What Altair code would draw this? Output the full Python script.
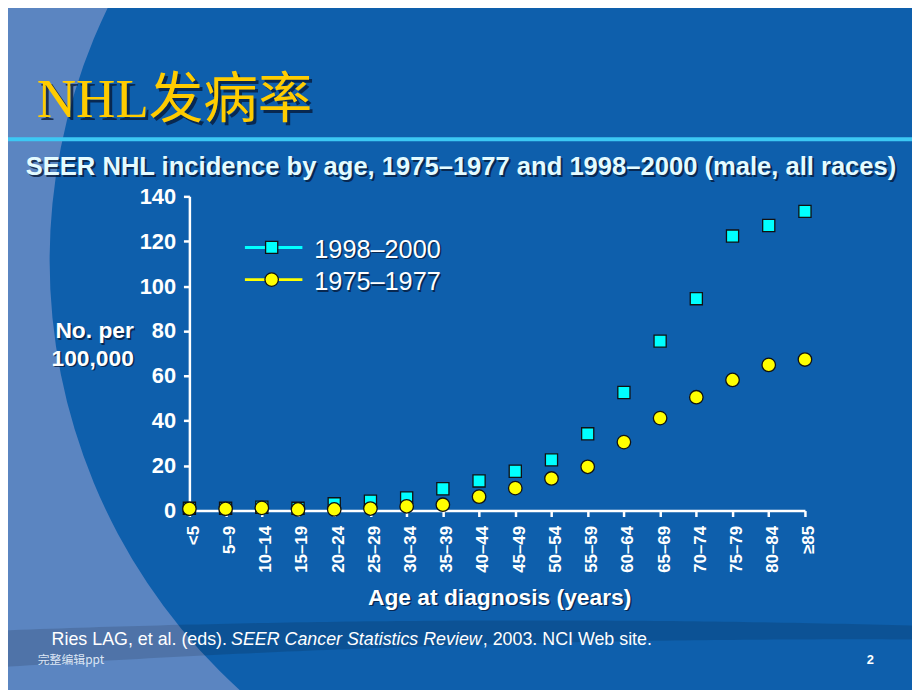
import altair as alt
import pandas as pd

# ---------------- data ----------------
categories = ["<5", "5–9", "10–14", "15–19", "20–24", "25–29", "30–34", "35–39",
              "40–44", "45–49", "50–54", "55–59", "60–64", "65–69", "70–74",
              "75–79", "80–84", "≥85"]
series_names = ["1998–2000", "1975–1977"]
rate_1998_2000 = [1.0, 1.0, 1.5, 1.0, 3.0, 4.2, 5.6, 9.7, 13.2, 17.5, 22.6,
                  34.2, 52.6, 75.5, 94.4, 122.3, 127.0, 133.3]
rate_1975_1977 = [0.8, 0.8, 1.2, 0.5, 0.5, 0.9, 1.9, 2.6, 6.2, 10.0, 14.3,
                  19.5, 30.5, 41.2, 50.5, 58.2, 64.9, 67.3]
y_ticks = [0, 20, 40, 60, 80, 100, 120, 140]

title_text = "NHL发病率"
subtitle_text = "SEER NHL incidence by age, 1975–1977 and 1998–2000 (male, all races)"
x_title = "Age at diagnosis (years)"
y_title = ["No. per", "100,000"]
source_parts = ["Ries LAG, et al. (eds).", "SEER Cancer Statistics Review", ", 2003. NCI Web site."]
footer_left = "完整编辑ppt"
page_no = "2"

# ---------------- style / layout ----------------
BG_DARK = "#0E5FAC"
BG_LIGHT = "#5B85C1"
CYAN = "#00FFFF"
YELLOW = "#FFFF00"
TITLE_YELLOW = "#FFCC00"
SHADOW = "#061633"
SANS = "Liberation Sans, Arial, sans-serif"
SERIF = "Liberation Serif, Noto Sans CJK SC, serif"

MARGIN = 8                 # page margin around the chart
PLOT_X, PLOT_Y = 191, 195  # plot-area origin on the slide (page pixels)
W, H = 621, 317            # plot-area size
SLIDE_W, SLIDE_H = 920, 690


def px(x):
    return x - PLOT_X


def py(y):
    return y - PLOT_Y


df = pd.DataFrame({
    "age": categories * 2,
    "series": [series_names[0]] * len(categories) + [series_names[1]] * len(categories),
    "rate": rate_1998_2000 + rate_1975_1977,
})
one = pd.DataFrame({"k": [0]})


def text(txt, x, y, size, color="white", weight="normal", style="normal",
         align="left", font=SANS, shadow=None, opacity=1.0):
    layers = []
    if shadow:
        layers.append(alt.Chart(one).mark_text(
            text=txt, font=font, fontSize=size, fontWeight=weight, fontStyle=style,
            align=align, baseline="alphabetic", color=SHADOW, opacity=0.75
        ).encode(x=alt.value(px(x) + shadow), y=alt.value(py(y) + shadow)))
    layers.append(alt.Chart(one).mark_text(
        text=txt, font=font, fontSize=size, fontWeight=weight, fontStyle=style,
        align=align, baseline="alphabetic", color=color, opacity=opacity
    ).encode(x=alt.value(px(x)), y=alt.value(py(y))))
    return layers


# background: light region left of a large dark disc
light_ring = alt.Chart(one).mark_arc(
    innerRadius=585, outerRadius=2500, theta=0, theta2=6.2832, color=BG_LIGHT
).encode(x=alt.value(px(635)), y=alt.value(py(260)))

# darker swoosh near the bottom
band = alt.Chart(alt.sequence(0, 931, 10, as_="sx")).transform_calculate(
    bx=f"datum.sx - {PLOT_X}",
    top=f"622.8 + pow(datum.sx - 536.7, 2) / 28214 - {PLOT_Y}",
    bot=f"641.9 + pow(datum.sx - 862.5, 2) / 26450 - {PLOT_Y}",
).mark_area(color="black", opacity=0.13).encode(
    x=alt.X("bx:Q", scale=None, axis=None),
    y=alt.Y("top:Q", scale=None, axis=None),
    y2="bot:Q",
)

rule_line = alt.Chart(one).mark_rule(color="#3CC8F4", strokeWidth=4).encode(
    x=alt.value(px(0)), x2=alt.value(px(SLIDE_W)), y=alt.value(py(137.5))
)

x_enc = alt.X(
    "age:N", sort=categories,
    scale=alt.Scale(type="point", domain=categories, padding=0),
    axis=alt.Axis(title=None, labelAngle=-90, labelFontSize=17, labelPadding=9,
                  labelOffset=4, labelOverlap=False, labelFlush=False),
)
y_enc = alt.Y(
    "rate:Q", scale=alt.Scale(domain=[0, 140], nice=False),
    axis=alt.Axis(title=None, values=y_ticks, labelFontSize=22, labelPadding=8),
)

squares = alt.Chart(df).transform_filter(
    alt.datum.series == series_names[0]
).mark_point(shape="square", filled=True, size=150, fill=CYAN, stroke="#111111",
             strokeWidth=1.3, opacity=1).encode(x=x_enc, y=y_enc)

circles = alt.Chart(df).transform_filter(
    alt.datum.series == series_names[1]
).mark_point(shape="circle", filled=True, size=185, fill=YELLOW, stroke="#111111",
             strokeWidth=1.3, opacity=1).encode(x=x_enc, y=y_enc)

# legend
legend_layers = []
for name, color, shape, ly, ty in [(series_names[0], CYAN, "square", 246.5, 257),
                                   (series_names[1], YELLOW, "circle", 279, 289.5)]:
    legend_layers.append(alt.Chart(one).mark_rule(color=color, strokeWidth=3).encode(
        x=alt.value(px(247)), x2=alt.value(px(305)), y=alt.value(py(ly))))
    legend_layers.append(alt.Chart(one).mark_point(
        shape=shape, filled=True, size=150 if shape == "square" else 185, fill=color,
        stroke="#111111", strokeWidth=1.3, opacity=1
    ).encode(x=alt.value(px(274)), y=alt.value(py(ly))))
    legend_layers += text(name, 317, ty, 25.5, shadow=1.5)

layers = [light_ring, band, rule_line]
layers += text(title_text, 37, 115, 55, color=TITLE_YELLOW, font=SERIF, shadow=3)
layers += text(subtitle_text, 465, 173, 25.8, color="#E4FBFF", weight="bold",
               align="center", shadow=2)
layers += text(y_title[0], 135, 338, 23, weight="bold", align="right", shadow=1.5)
layers += text(y_title[1], 135, 366, 23, weight="bold", align="right", shadow=1.5)
layers += text(x_title, 504, 607, 23, weight="bold", align="center", shadow=1.5)
layers += text(source_parts[0], 52, 648, 18)
layers += text(source_parts[1], 233, 648, 18, style="italic")
layers += text(source_parts[2], 487, 648, 18)
layers += text(footer_left, 38, 667, 12, color="#DCE6F5",
               font="Noto Sans CJK SC, Liberation Sans, sans-serif")
layers += text(page_no, 878, 667, 13, weight="bold", align="center")
layers += [squares, circles]
layers += legend_layers

left = PLOT_X - MARGIN
top = PLOT_Y - MARGIN
chart = alt.layer(*layers).properties(
    width=W, height=H,
    padding={"left": left, "top": top,
             "right": SLIDE_W - MARGIN - left - W, "bottom": SLIDE_H - MARGIN - top - H},
    autosize=alt.AutoSizeParams(type="none"),
    background=BG_DARK,
).configure_view(stroke=None).configure_axis(
    domainColor="white", domainWidth=2.5, tickColor="white", tickWidth=2.5, tickSize=6,
    labelColor="white", labelFont=SANS, labelFontWeight="bold", grid=False,
)

chart.save("out.html", embed_options={"renderer": "svg", "actions": False})
